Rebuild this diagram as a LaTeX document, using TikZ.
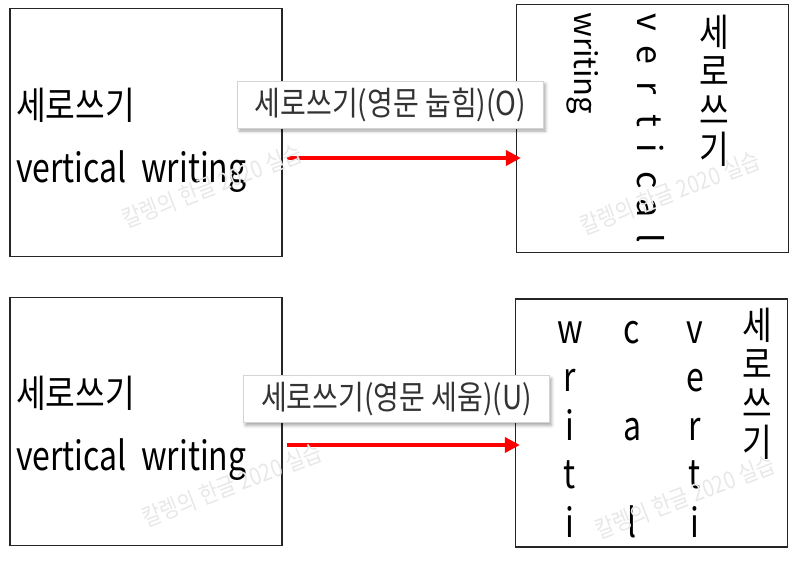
\documentclass[tikz,border=0pt]{standalone}
\usepackage{fontspec}
\setmainfont{Noto Sans CJK KR}
\newfontfamily\kr[FakeStretch=0.85]{Noto Sans CJK KR}
\newfontfamily\latn[FakeStretch=0.8]{Noto Sans CJK KR}
\usetikzlibrary{arrows.meta,shadows.blur}
\definecolor{labgray}{HTML}{333333}
\definecolor{framegray}{HTML}{D4D4D4}
\begin{document}
\begin{tikzpicture}[x=1pt,y=-1pt,
    frame/.style={draw=black!85,line width=1.3pt,rectangle,minimum width=272pt,minimum height=248pt,inner sep=0},
    modelabel/.style={draw=framegray,line width=1pt,fill=white,text=labgray,font=\kr\fontsize{33}{33}\selectfont,minimum width=306pt,minimum height=47pt,inner sep=0,blur shadow={shadow xshift=2pt,shadow yshift=-3pt,shadow blur radius=3pt,shadow opacity=35}},
    redarrow/.style={draw=red,line width=4pt,-{Triangle[length=15pt,width=15pt]}},
    hangul/.style={font=\kr\fontsize{38}{39}\selectfont,inner sep=0,align=center},
    roman/.style={font=\latn\fontsize{40}{40}\selectfont,inner sep=0},
    sideways/.style={font=\fontsize{31}{31}\selectfont,inner sep=0,rotate=-90},
    watermark/.style={font=\kr\fontsize{24}{24}\selectfont,text=black!9,rotate=21}]
            \useasboundingbox (0,0) rectangle (800,562);
            \node[frame] (lt) at (146,132.5) {};
            \node[frame] (rt) at (652.5,128.5) {};
            \node[frame] (lb) at (146,421.5) {};
            \node[frame] (rb) at (651.5,423) {};
            \node[hangul,anchor=west] (lthan) at (16,105) {세로쓰기};
            \node[roman,anchor=base west] (ltlat) at (16,182) {vertical~~writing};
            \node[hangul,anchor=west] (lbhan) at (16,393) {세로쓰기};
            \node[roman,anchor=base west] (lblat) at (16,470) {vertical~~writing};
            \node[hangul] (rthan) at (714,91) {세\\로\\쓰\\기};
            \node[sideways,anchor=base west] (rtwri) at (574,12) {writing};
            \foreach \ch/\pos [count=\k] in {v/22,e/55,r/88,t/121,i/148,c/180,a/208,l/238}
                \node[sideways,anchor=base,font=\fontsize{34}{34}\selectfont] (rtv\k) at (637,\pos) {\ch};
            \node[hangul] (rbhan) at (757,384) {세\\로\\쓰\\기};
            \foreach \ch [count=\k from 0] in {w,r,i,t,i}
                \node[roman,anchor=base] (rbw\k) at (570,343+48.5*\k) {\ch};
            \foreach \ch/\k in {c/0,a/2,l/4}
                \node[roman,anchor=base] (rbc\k) at (632,343+48.5*\k) {\ch};
            \foreach \ch [count=\k from 0] in {v,e,r,t,i}
                \node[roman,anchor=base] (rbv\k) at (695,343+48.5*\k) {\ch};
            \draw[redarrow] ([xshift=4pt,yshift=-25.5pt]lt.east) -- ([xshift=5pt,yshift=-29.5pt]rt.west);
            \draw[redarrow] ([xshift=4pt,yshift=-23.5pt]lb.east) -- ([xshift=5pt,yshift=-22pt]rb.west);
            \node[modelabel] (lab1) at (390.5,104.5) {세로쓰기(영문 눕힘)(O)};
            \node[modelabel] (lab2) at (396.5,399) {세로쓰기(영문 세움)(U)};
            \node[watermark] (wm1) at (212,186) {칼렝의 한글 2020 실습};
            \node[watermark] (wm2) at (670,193) {칼렝의 한글 2020 실습};
            \node[watermark] (wm3) at (232,485) {칼렝의 한글 2020 실습};
            \node[watermark] (wm4) at (685,497) {칼렝의 한글 2020 실습};
        \end{tikzpicture}
\end{document}
